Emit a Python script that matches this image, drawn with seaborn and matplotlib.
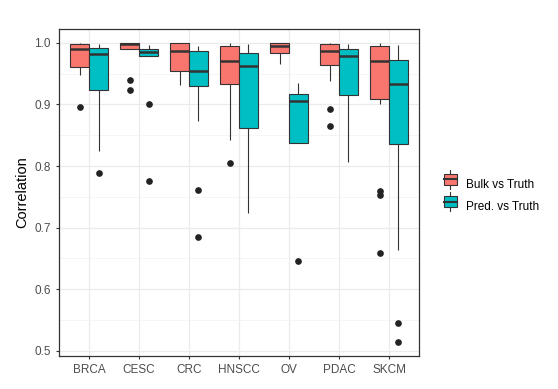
import numpy as np
import pandas as pd
import seaborn as sns
import matplotlib.pyplot as plt
from matplotlib.patches import Rectangle
from matplotlib.lines import Line2D
from matplotlib.legend_handler import HandlerBase

# cancer types and comparisons
cancers = ['BRCA', 'CESC', 'CRC', 'HNSCC', 'OV', 'PDAC', 'SKCM']
groups = ['Bulk vs Truth', 'Pred. vs Truth']
colors = ['#F8766D', '#00BFC4']

# per-sample correlations
bulk_vals = {
    'BRCA': [.896, .948, .961, .961, .975, .985, .990, .993, .996, .998, .999, 1.0, 1.0],
    'CESC': [.924, .940, .990, .990, .994, .996, .998, .999, 1.0, 1.0, 1.0, 1.0, 1.0],
    'CRC': [.932, .945, .955, .955, .970, .980, .986, .992, .997, 1.0, 1.0, 1.0, 1.0],
    'HNSCC': [.805, .843, .933, .933, .950, .962, .970, .980, .990, .995, .998, 1.0, 1.0],
    'OV': [.966, .975, .984, .984, .989, .992, .994, .997, .999, 1.0, 1.0, 1.0, 1.0],
    'PDAC': [.865, .893, .938, .964, .975, .982, .987, .992, .996, .998, .999, 1.0, 1.0],
    'SKCM': [.659, .753, .760, .901, .909, .920, .940, .960, .970, .978, .985,
             .990, .994, .996, .998, 1.0, 1.0],
}
pred_vals = {
    'BRCA': [.789, .825, .924, .924, .950, .970, .982, .986, .990, .992, .995, .997, .998],
    'CESC': [.775, .901, .979, .979, .982, .984, .985, .987, .989, .990, .993, .995, .996],
    'CRC': [.685, .761, .873, .930, .940, .948, .955, .965, .977, .986, .990, .992, .994],
    'HNSCC': [.724, .800, .862, .862, .910, .945, .963, .972, .980, .984, .990, .995, .998],
    'OV': [.646, .838, .838, .838, .870, .895, .906, .910, .914, .917, .925, .930, .935],
    'PDAC': [.807, .870, .916, .916, .950, .970, .979, .984, .987, .990, .994, .996, .998],
    'SKCM': [.515, .545, .664, .836, .870, .900, .933, .945, .960, .972, .985, .992, .997],
}

rows = []
for c in cancers:
    for v in bulk_vals[c]:
        rows.append((c, groups[0], v))
    for v in pred_vals[c]:
        rows.append((c, groups[1], v))
df = pd.DataFrame(rows, columns=['cancer', 'group', 'corr'])

plt.rcParams['font.family'] = ['Liberation Sans', 'DejaVu Sans']

fig = plt.figure(figsize=(5.58, 3.89), dpi=100)
ax = fig.add_axes([0.106, 0.085, 0.645, 0.841])

edge = '#333333'
sns.boxplot(data=df, x='cancer', y='corr', hue='group', order=cancers,
            hue_order=groups, palette=colors, width=0.75, gap=0, ax=ax,
            linewidth=0.8, linecolor=edge, saturation=1, showcaps=False,
            whis=1.5,
            medianprops=dict(color=edge, linewidth=1.8),
            flierprops=dict(marker='o', markerfacecolor='#222222',
                            markeredgecolor='#222222', markersize=3.8),
            legend=False)

ax.set_xlim(-0.6, 6.6)
ax.set_ylim(0.4919, 1.0227)
ax.set_yticks([0.5, 0.6, 0.7, 0.8, 0.9, 1.0])
ax.set_yticks([0.55, 0.65, 0.75, 0.85, 0.95], minor=True)
ax.set_yticklabels(['0.5', '0.6', '0.7', '0.8', '0.9', '1.0'])
ax.grid(True, which='major', color='#EBEBEB', linewidth=0.9)
ax.grid(True, which='minor', axis='y', color='#F2F2F2', linewidth=0.5)
ax.set_axisbelow(True)
for s in ax.spines.values():
    s.set_color('#333333')
    s.set_linewidth(0.9)
ax.tick_params(axis='both', which='major', colors='#333333', labelcolor='#4D4D4D',
               labelsize=8.5, length=2.5, width=0.8)
ax.tick_params(axis='y', which='minor', length=0)
ax.set_xlabel('')
ax.set_ylabel('Correlation', fontsize=10.5, color='black', labelpad=4)


class BoxKey(HandlerBase):
    def create_artists(self, legend, orig, xd, yd, width, height, fontsize, trans):
        w = width * 0.9
        x0 = xd + (width - w) / 2
        rect = Rectangle((x0, yd + height * 0.05), w, height * 0.9,
                         facecolor=orig.get_facecolor(), edgecolor=edge,
                         linewidth=0.8, transform=trans)
        cx = x0 + w / 2
        wh1 = Line2D([cx, cx], [yd - height * 0.25, yd + height * 0.05],
                     color=edge, linewidth=0.8, transform=trans)
        wh2 = Line2D([cx, cx], [yd + height * 0.95, yd + height * 1.25],
                     color=edge, linewidth=0.8, transform=trans)
        med = Line2D([x0, x0 + w], [yd + height / 2] * 2, color=edge,
                     linewidth=1.5, transform=trans)
        return [wh1, wh2, rect, med]


handles = [Rectangle((0, 0), 1, 1, facecolor=col) for col in colors]
fig.legend(handles, groups, handler_map={Rectangle: BoxKey()},
           loc='center left', bbox_to_anchor=(0.775, 0.497), frameon=False,
           fontsize=8.5, handlelength=1.2, handleheight=1.3, labelspacing=0.75,
           handletextpad=0.7)

fig.savefig('out.png', dpi=100)
